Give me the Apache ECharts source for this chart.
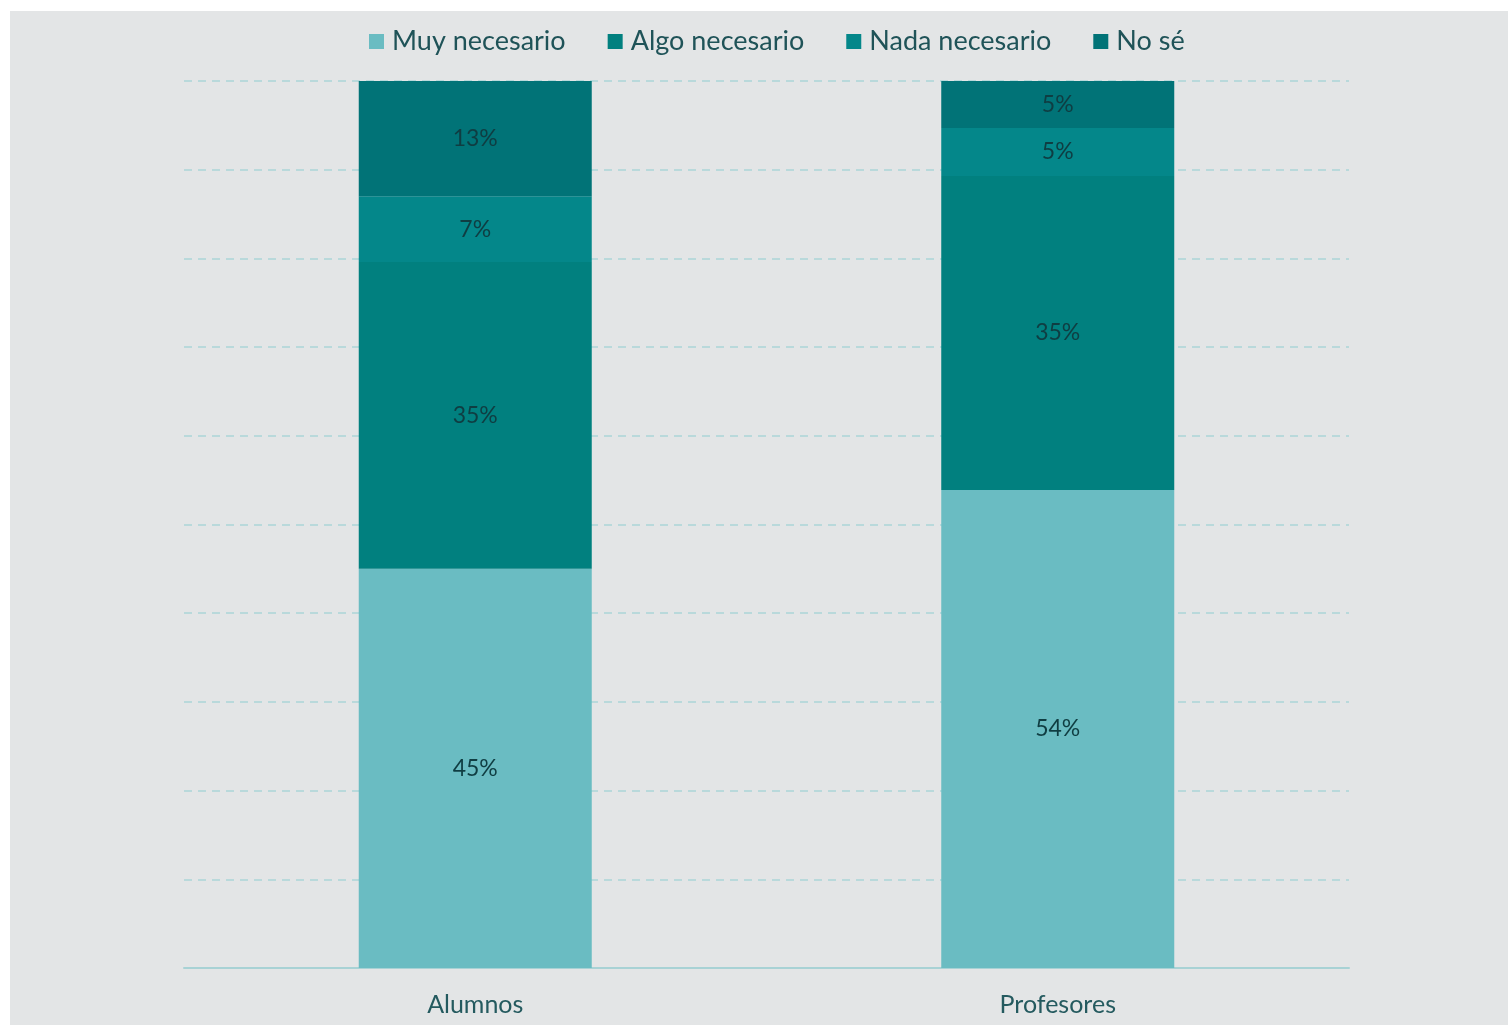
<!DOCTYPE html>
<html>
<head>
<meta charset="utf-8">
<script src="https://cdn.jsdelivr.net/npm/echarts@6/dist/echarts.min.js"></script>
<style>
html,body{margin:0;padding:0;background:#ffffff;}
#bg{position:absolute;left:10px;top:11px;width:1498px;height:1014px;background:#e3e5e6;}
#chart{position:absolute;left:0;top:0;width:1508px;height:1025px;}
</style>
</head>
<body>
<div id="bg"></div>
<div id="chart"></div>
<script>
const categories = ['Alumnos', 'Profesores'];
const seriesNames = ['Muy necesario', 'Algo necesario', 'Nada necesario', 'No sé'];
const muyNecesario = [45.0, 53.9];
const algoNecesario = [34.6, 35.4];
const nadaNecesario = [7.4, 5.4];
const noSe = [13.0, 5.3];
const seriesValues = [muyNecesario, algoNecesario, nadaNecesario, noSe];
const colors = ['#6abcc2', '#01807f', '#04878a', '#017377'];

const chart = echarts.init(document.getElementById('chart'), null, {renderer: 'canvas'});
const font = 'Lato, "Open Sans", sans-serif';
chart.setOption({
  backgroundColor: 'transparent',
  color: colors,
  animation: false,
  legend: {
    top: 23,
    left: 364,
    itemWidth: 15,
    itemHeight: 15,
    itemGap: 42,
    icon: 'rect',
    textStyle: {fontFamily: font, fontSize: 27, color: '#1f5358', padding: [0,0,0,3]},
    data: seriesNames
  },
  grid: {left: 184, right: 159, top: 81, bottom: 57, containLabel: false},
  xAxis: {
    type: 'category',
    data: categories,
    axisLine: {lineStyle: {color: '#a8d2d5', width: 2}},
    axisTick: {show: false},
    axisLabel: {fontFamily: font, fontSize: 25, color: '#245a5f', margin: 24}
  },
  yAxis: {
    type: 'value',
    min: 0, max: 100, interval: 10,
    axisLabel: {show: false},
    axisLine: {show: false},
    axisTick: {show: false},
    splitLine: {lineStyle: {color: '#acd5d7', type: [8, 6], width: 1.5}}
  },
  series: seriesNames.map((name, i) => ({
    name: name,
    type: 'bar',
    stack: 'total',
    barWidth: '40%',
    data: seriesValues[i],
    itemStyle: {color: colors[i]},
    label: {
      show: true,
      position: 'inside',
      fontFamily: font,
      fontSize: 23,
      color: '#0f3d42',
      formatter: p => Math.round(p.value) + '%'
    }
  }))
});
</script>
</body>
</html>
